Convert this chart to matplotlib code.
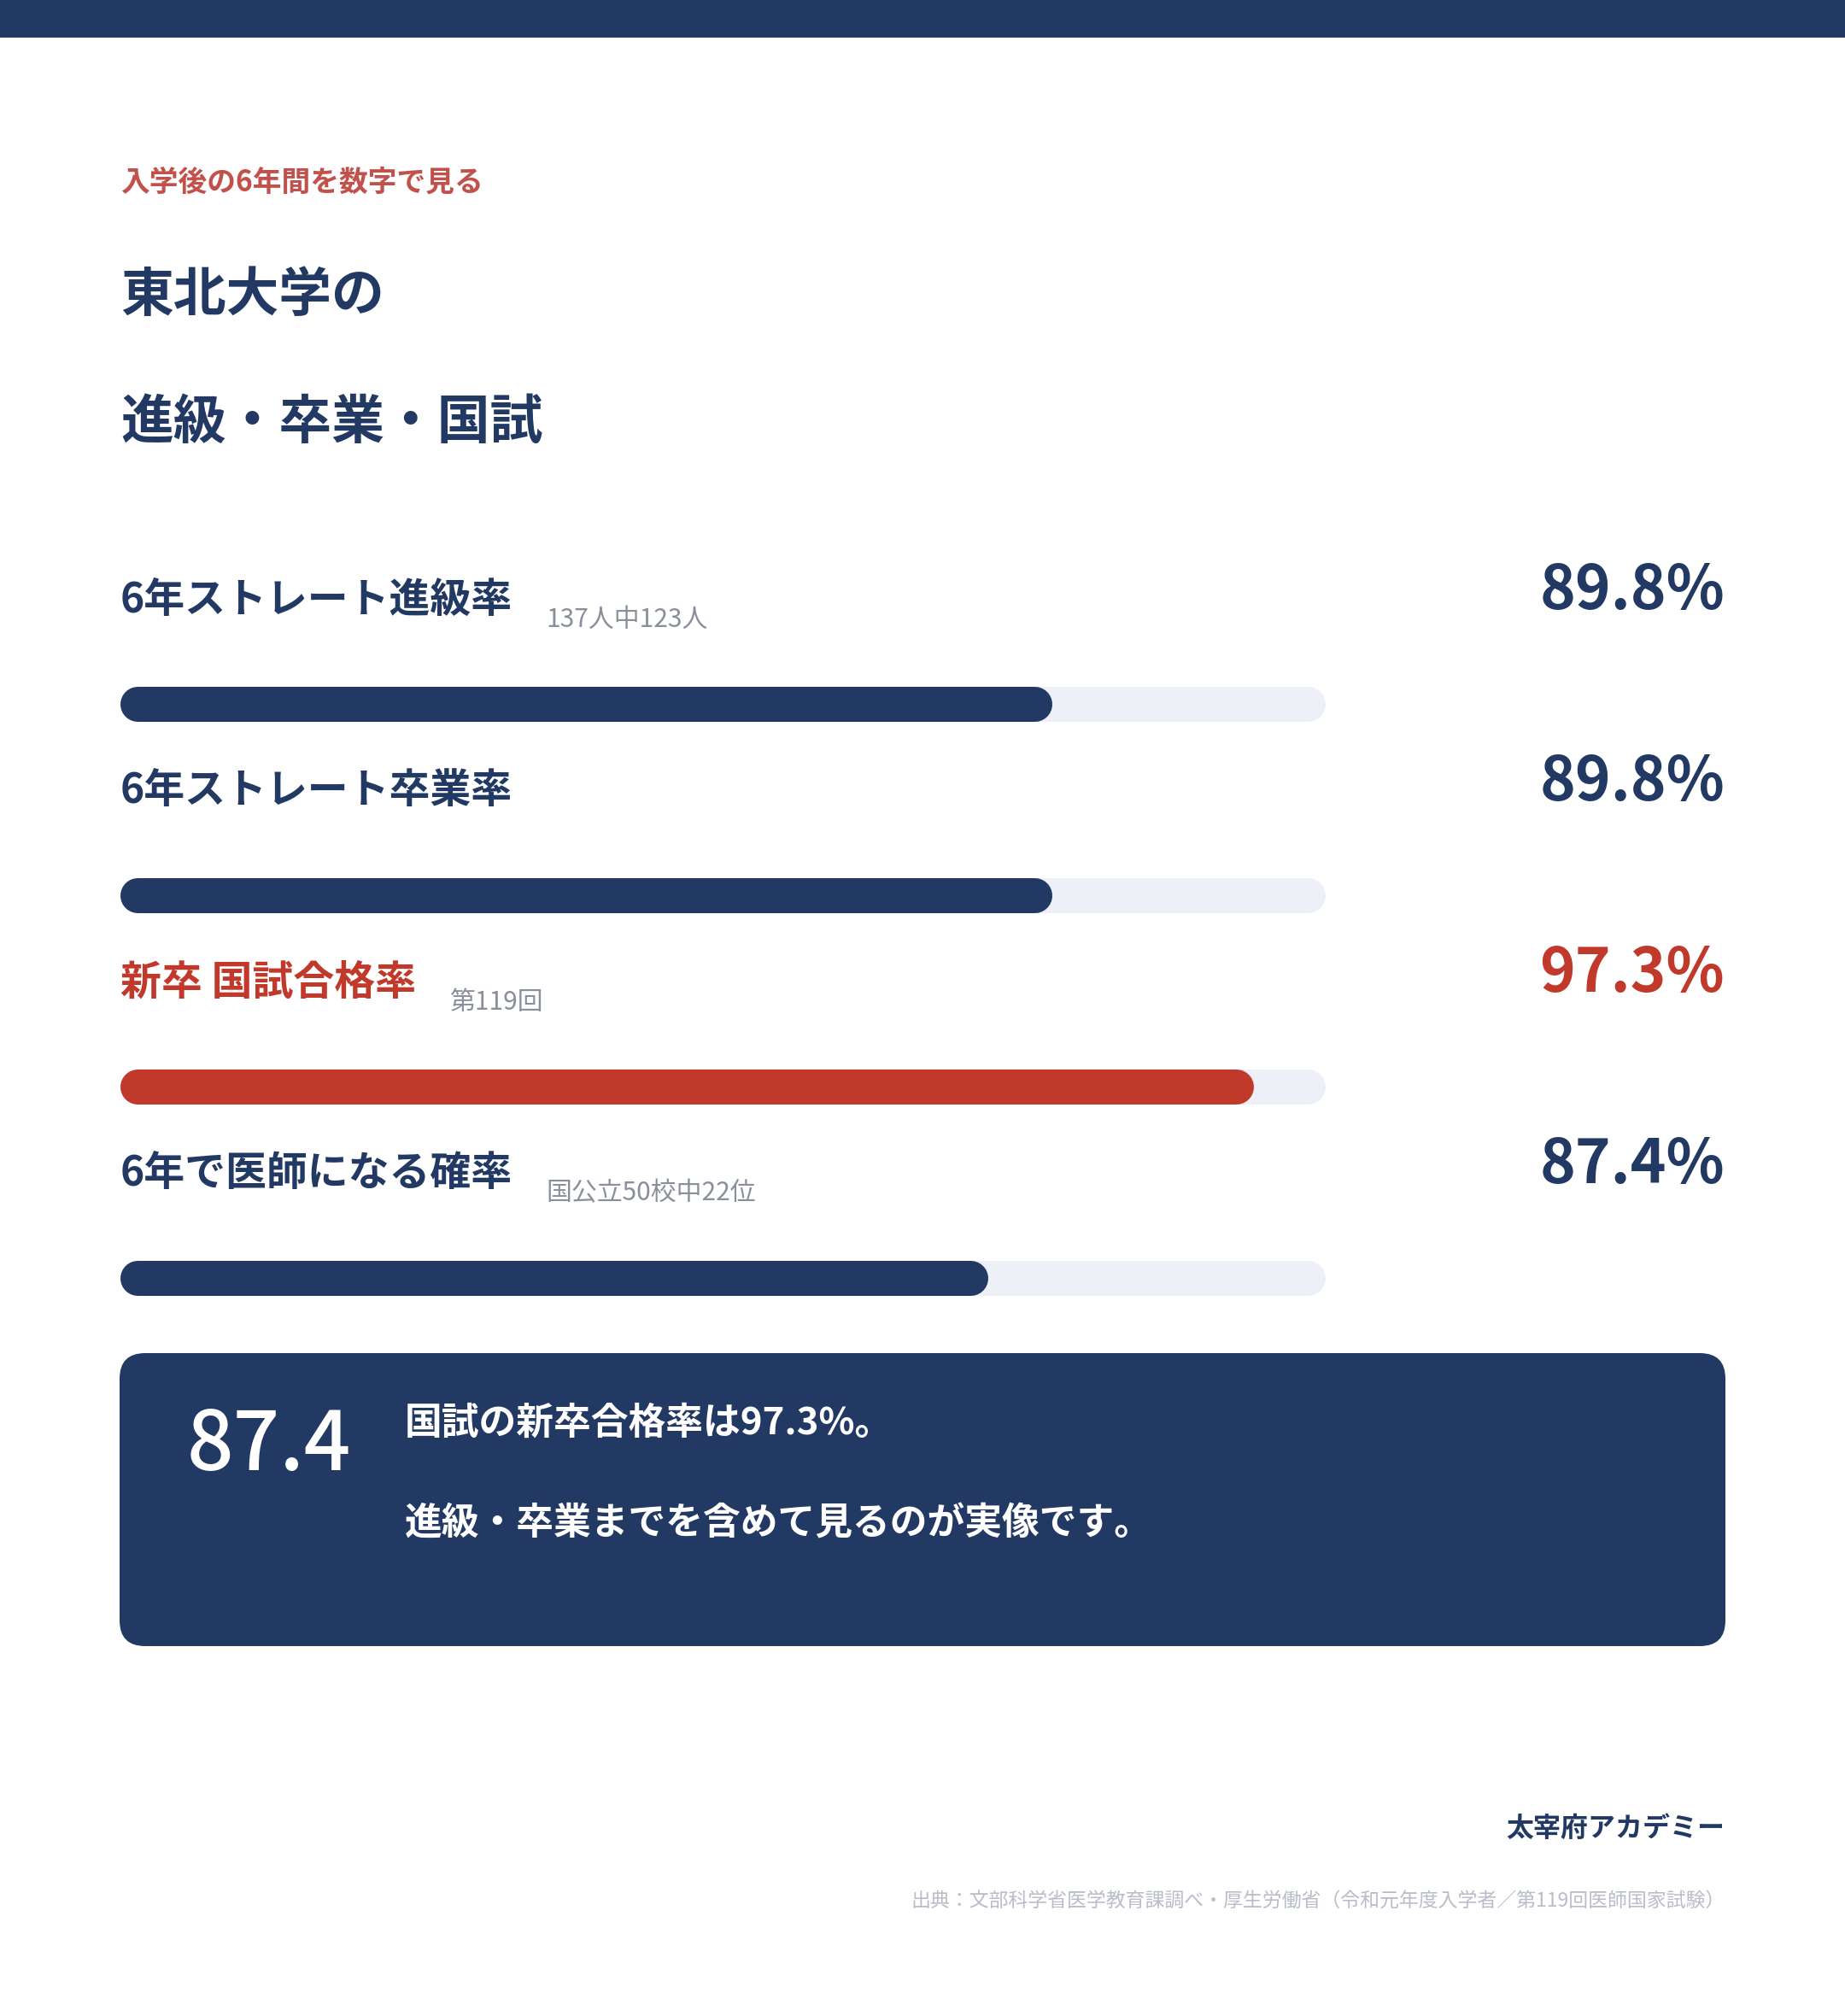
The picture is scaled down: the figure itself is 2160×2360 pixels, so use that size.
import numpy as np
import matplotlib
matplotlib.use("Agg")
import matplotlib.pyplot as plt
from matplotlib.patches import FancyBboxPatch, Rectangle

plt.rcParams['font.family'] = ['Noto Sans CJK JP', 'DejaVu Sans']

# ===============================
# DATA
# ===============================
labels = ["6年ストレート進級率", "6年ストレート卒業率", "新卒 国試合格率", "6年で医師になる確率"]
notes = ["137人中123人", "", "第119回", "国公立50校中22位"]
values = [89.8, 89.8, 97.3, 87.4]
highlight = [False, False, True, False]
x_min, x_max = 55, 100

kicker = "入学後の6年間を数字で見る"
title_lines = ["東北大学の", "進級・卒業・国試"]
box_number = "87.4"
box_lines = ["国試の新卒合格率は97.3%。", "進級・卒業までを含めて見るのが実像です。"]
brand = "太宰府アカデミー"
source = "出典：文部科学省医学教育課調べ・厚生労働省（令和元年度入学者／第119回医師国家試験）"

NAVY = "#223963"
RED = "#c0392b"
KICKER_RED = "#c2504b"
TRACK = "#edf0f7"
GREY = "#8a8f9c"
LIGHT_GREY = "#b9bdca"

W, H = 2160, 2360
fig = plt.figure(figsize=(W / 100, H / 100), dpi=100)
fig.patch.set_facecolor("white")

# overlay axes in pixel coords for layout / text
ax0 = fig.add_axes([0, 0, 1, 1])
ax0.set_xlim(0, W)
ax0.set_ylim(H, 0)
ax0.axis("off")

# top band
ax0.add_patch(Rectangle((0, 0), W, 44, color=NAVY, lw=0))

# header
ax0.text(141, 213, kicker, color=KICKER_RED, fontsize=24.3, fontweight="bold", va="center")
ax0.text(141, 346, title_lines[0], color=NAVY, fontsize=44.5, fontweight="bold", va="center")
ax0.text(141, 494, title_lines[1], color=NAVY, fontsize=44.5, fontweight="bold", va="center")

# ===============================
# BARS
# ===============================
row_top, row_h = 712, 224
bar_left, bar_right = 140, 1552
bar_px = 41
n = len(values)
axb = fig.add_axes([bar_left / W, 1 - (row_top + row_h * n) / H,
                    (bar_right - bar_left) / W, row_h * n / H])
axb.set_xlim(x_min, x_max)
axb.set_ylim(n - 0.5, -0.5)
axb.axis("off")

lw_pt = bar_px * 72 / 100
r = (bar_px / 2) * (x_max - x_min) / (bar_right - bar_left)
for i, v in enumerate(values):
    c = RED if highlight[i] else NAVY
    axb.plot([x_min + r, x_max - r], [i, i], color=TRACK, lw=lw_pt,
             solid_capstyle="round", zorder=1)
    axb.plot([x_min + r, v - r], [i, i], color=c, lw=lw_pt,
             solid_capstyle="round", zorder=2)

# labels, notes, values
fig.canvas.draw()
renderer = fig.canvas.get_renderer()
for i, (lab, note, v) in enumerate(zip(labels, notes, values)):
    yc = row_top + row_h * (i + 0.5)
    c = RED if highlight[i] else NAVY
    t = ax0.text(141, yc - 122, lab, color=c, fontsize=34.5, fontweight="bold", va="center")
    if note:
        bb = t.get_window_extent(renderer)
        ax0.text(bb.x1 + 39, yc - 99, note, color=GREY, fontsize=21.5, va="center")
    ax0.text(2019, yc - 111, f"{v}%", color=c, fontsize=51, fontweight="bold",
             va="baseline", ha="right")

# ===============================
# SUMMARY BOX
# ===============================
ax0.add_patch(FancyBboxPatch((140 + 30, 1584 + 30), 1880 - 60, 343 - 60,
                             boxstyle="round,pad=30", fc=NAVY, ec="none"))
ax0.text(219, 1721, box_number, color="white", fontsize=69, fontweight="medium", va="baseline")
ax0.text(474, 1666, box_lines[0], color="white", fontsize=31.5, fontweight="bold", va="center")
ax0.text(474, 1783, box_lines[1], color="white", fontsize=31.5, fontweight="bold", va="center")

# footer
ax0.text(2019, 2141, brand, color=NAVY, fontsize=23, fontweight="bold", va="center", ha="right")
ax0.text(2020, 2226, source, color=LIGHT_GREY, fontsize=16.5, va="center", ha="right")

fig.savefig("out.png", dpi=100, facecolor="white")
